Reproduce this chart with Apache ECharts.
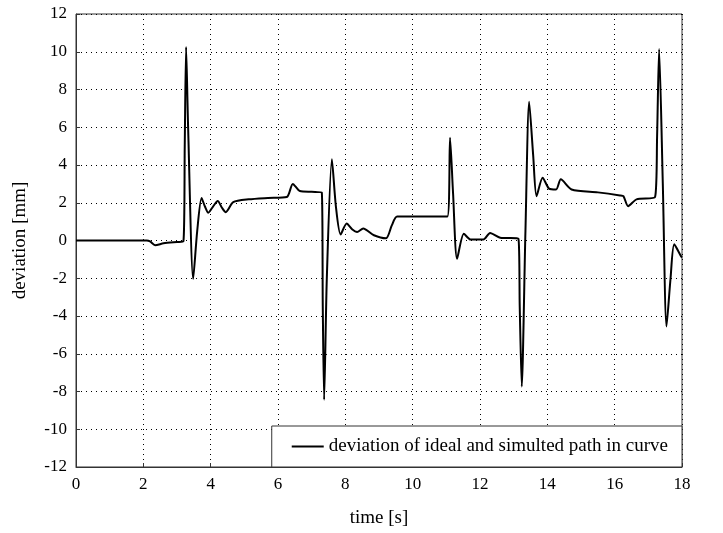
<!DOCTYPE html>
<html>
<head>
<meta charset="utf-8">
<script src="https://cdn.jsdelivr.net/npm/echarts@6/dist/echarts.min.js"></script>
<style>html,body{margin:0;padding:0;background:#fff;}#c{width:723px;height:533px;}</style>
</head>
<body>
<div id="c"></div>
<script>
const times = [0, 2.1, 2.2, 2.35, 2.6, 3.0, 3.19, 3.23, 3.27, 3.33, 3.48, 3.6, 3.73, 3.83, 3.93, 4.07, 4.21, 4.33, 4.45, 4.67, 5.13, 5.7, 6.26, 6.44, 6.65, 7.0, 7.30, 7.33, 7.37, 7.45, 7.60, 7.72, 7.86, 8.04, 8.2, 8.35, 8.53, 8.85, 9.21, 9.38, 9.54, 11.03, 11.11, 11.2, 11.32, 11.52, 11.72, 12.10, 12.30, 12.60, 13.14, 13.18, 13.24, 13.35, 13.46, 13.58, 13.68, 13.86, 14.05, 14.26, 14.40, 14.72, 15.5, 16.16, 16.26, 16.40, 16.65, 17.20, 17.26, 17.32, 17.43, 17.54, 17.66, 17.77, 17.97, 18];
const deviation = [0, 0, -0.05, -0.25, -0.15, -0.08, -0.05, 5.0, 10.25, 6.0, -2.03, 0.5, 2.25, 1.8, 1.47, 1.8, 2.09, 1.75, 1.5, 2.03, 2.18, 2.25, 2.3, 3.0, 2.62, 2.58, 2.55, -3.5, -8.44, -2.0, 4.3, 1.8, 0.32, 0.9, 0.6, 0.45, 0.64, 0.28, 0.12, 0.8, 1.27, 1.27, 5.45, 2.5, -0.97, 0.36, 0.05, 0.05, 0.4, 0.15, 0.1, -3.5, -7.74, 0.5, 7.35, 4.5, 2.35, 3.33, 2.75, 2.7, 3.24, 2.7, 2.55, 2.39, 2.35, 1.82, 2.18, 2.3, 5.5, 10.14, 3.0, -4.55, -2.0, -0.2, -0.83, -0.9];
const xTicks = {min: 0, max: 18, step: 2};
const yTicks = {min: -12, max: 12, step: 2};
const seriesName = 'deviation of ideal and simulted path in curve';

const font = 'Liberation Serif';
const chart = echarts.init(document.getElementById('c'), null, {renderer: 'canvas'});
chart.setOption({
  animation: false,
  backgroundColor: '#fff',
  grid: {left: 76, right: 41, top: 14, bottom: 66, show: true, borderColor: '#333', borderWidth: 1, containLabel: false},
  xAxis: {
    type: 'value', min: xTicks.min, max: xTicks.max, interval: xTicks.step,
    name: 'time [s]', nameLocation: 'middle', nameGap: 42,
    nameTextStyle: {fontFamily: font, fontSize: 19, color: '#000'},
    axisLine: {show: true, onZero: false, lineStyle: {color: '#333'}},
    axisTick: {show: true, inside: true, length: 4, lineStyle: {color: '#333'}},
    axisLabel: {fontFamily: font, fontSize: 17, color: '#000', margin: 9},
    splitLine: {show: true, lineStyle: {type: [1, 4], color: '#000', width: 1}}
  },
  yAxis: {
    type: 'value', min: yTicks.min, max: yTicks.max, interval: yTicks.step,
    name: 'deviation [mm]', nameLocation: 'middle', nameGap: 46, nameRotate: 90,
    nameTextStyle: {fontFamily: font, fontSize: 19, color: '#000'},
    axisLine: {show: true, onZero: false, lineStyle: {color: '#333'}},
    axisTick: {show: true, inside: true, length: 4, lineStyle: {color: '#333'}},
    axisLabel: {fontFamily: font, fontSize: 17, color: '#000', margin: 9},
    splitLine: {show: true, lineStyle: {type: [1, 4], color: '#000', width: 1}}
  },
  legend: {
    show: true, right: 41, bottom: 66,
    backgroundColor: '#fff', borderColor: '#333', borderWidth: 1,
    padding: [11, 14, 11, 20], itemWidth: 32, itemHeight: 14, itemGap: 10,
    textStyle: {fontFamily: font, fontSize: 19, color: '#000'},
    data: [{name: seriesName, icon: 'path://M0,0L32,0L32,2L0,2Z'}]
  },
  series: [{
    name: seriesName, type: 'line',
    data: times.map((t, i) => [t, deviation[i]]),
    symbol: 'none', smooth: 0.25,
    lineStyle: {color: '#000', width: 2},
    itemStyle: {color: '#000'}
  }]
});
</script>
</body>
</html>
